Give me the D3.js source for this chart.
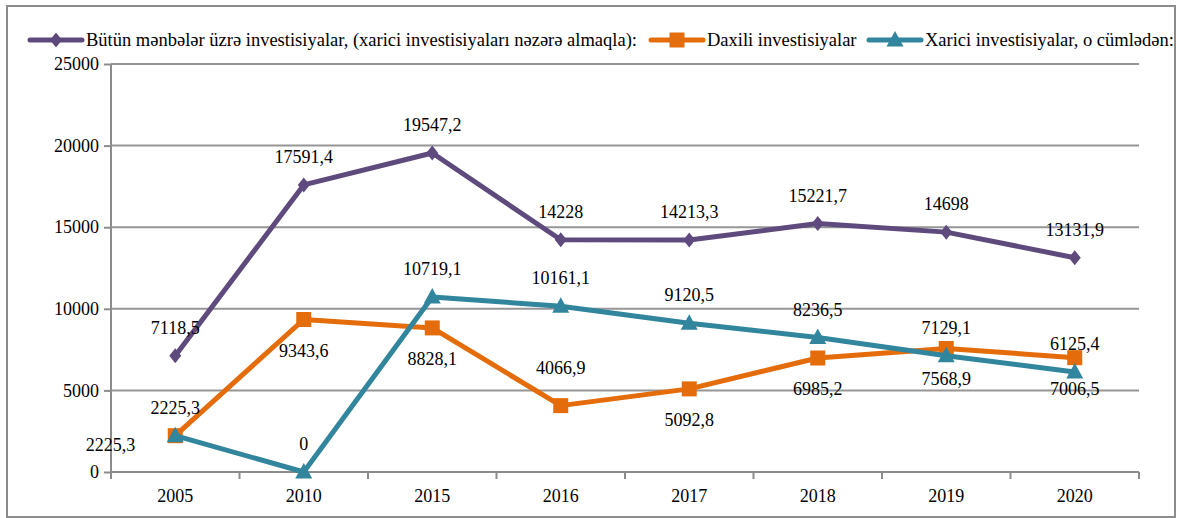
<!DOCTYPE html>
<html>
<head>
<meta charset="utf-8">
<script src="https://cdn.jsdelivr.net/npm/d3@7"></script>
<style>
  body { margin: 0; background: #fff; }
</style>
</head>
<body>
<div id="chart"></div>
<script>
// Data
const years = ['2005', '2010', '2015', '2016', '2017', '2018', '2019', '2020'];
const allValues = [7118.5, 17591.4, 19547.2, 14228, 14213.3, 15221.7, 14698, 13131.9];
const domesticValues = [2225.3, 9343.6, 8828.1, 4066.9, 5092.8, 6985.2, 7568.9, 7006.5];
const foreignValues = [2225.3, 0, 10719.1, 10161.1, 9120.5, 8236.5, 7129.1, 6125.4];
const yTicks = [0, 5000, 10000, 15000, 20000, 25000];

// where each data label sits relative to its point
const allPlace = ['above', 'above', 'above', 'above', 'above', 'above', 'above', 'above'];
const domesticPlace = ['above', 'below', 'below', 'above2', 'below', 'below', 'below', 'below'];
const foreignPlace = ['left', 'above', 'above', 'above', 'above', 'above', 'above', 'above'];

const FONT = '"Liberation Serif"';
const W = 1180, H = 518;
const margin = { top: 64, right: 41, bottom: 46, left: 111 };
const width = W - margin.left - margin.right;
const height = H - margin.top - margin.bottom;

const svg = d3.select('#chart')
    .append('svg')
    .attr('width', W)
    .attr('height', H);

// outer frame
svg.append('rect')
    .attr('x', 7).attr('y', 6)
    .attr('width', 1168).attr('height', 511)
    .attr('fill', 'none')
    .attr('stroke', '#8c8c8c')
    .attr('stroke-width', 2);

const g = svg.append('g')
    .attr('transform', `translate(${margin.left},${margin.top})`);

const x = d3.scaleBand()
    .domain(years)
    .range([0, width])
    .padding(0);

const y = d3.scaleLinear()
    .domain([0, 25000])
    .range([height, 0]);

// gridlines
g.append('g')
    .selectAll('line')
    .data(yTicks.filter(d => d > 0))
    .enter().append('line')
    .attr('x1', 0).attr('x2', width)
    .attr('y1', d => y(d)).attr('y2', d => y(d))
    .attr('stroke', '#969696')
    .attr('stroke-width', 2);

// y axis
const yAxis = g.append('g')
    .call(d3.axisLeft(y).tickValues(yTicks).tickSize(7).tickPadding(5).tickFormat(d => d));
yAxis.selectAll('path, line').attr('stroke', '#8c8c8c').attr('stroke-width', 2);
yAxis.select('.domain').attr('d', `M0,${height}V0`);
yAxis.selectAll('text')
    .style('font-family', FONT)
    .style('font-size', '18px')
    .attr('fill', '#000');

// x axis with ticks between categories
const xAxis = g.append('g')
    .attr('transform', `translate(0,${height})`);
xAxis.append('line')
    .attr('x1', 0).attr('x2', width)
    .attr('stroke', '#8c8c8c').attr('stroke-width', 2);
xAxis.selectAll('.tk')
    .data(years.concat(['end']))
    .enter().append('line')
    .attr('class', 'tk')
    .attr('x1', (d, i) => i * x.bandwidth())
    .attr('x2', (d, i) => i * x.bandwidth())
    .attr('y1', 0).attr('y2', 7)
    .attr('stroke', '#8c8c8c').attr('stroke-width', 2);
xAxis.selectAll('text')
    .data(years)
    .enter().append('text')
    .attr('x', d => x(d) + x.bandwidth() / 2)
    .attr('y', 30)
    .attr('text-anchor', 'middle')
    .style('font-family', FONT)
    .style('font-size', '18px')
    .text(d => d);

const series = [
    { name: 'Bütün mənbələr üzrə investisiyalar, (xarici investisiyaları nəzərə almaqla):', values: allValues, place: allPlace, color: '#5f4a7d', marker: 'diamond' },
    { name: 'Daxili investisiyalar', values: domesticValues, place: domesticPlace, color: '#e46c0a', marker: 'square' },
    { name: 'Xarici investisiyalar, o cümlədən:', values: foreignValues, place: foreignPlace, color: '#31859c', marker: 'triangle' }
];

const cx = i => x(years[i]) + x.bandwidth() / 2;

function markerPath(type) {
    if (type === 'diamond') return 'M0,-7.5L6,0L0,7.5L-6,0Z';
    if (type === 'square') return 'M-7.5,-7.5H7.5V7.5H-7.5Z';
    return 'M0,-9L8.5,6.5H-8.5Z';
}

const line = d3.line()
    .x((d, i) => cx(i))
    .y(d => y(d));

series.forEach(s => {
    g.append('path')
        .datum(s.values)
        .attr('d', line)
        .attr('fill', 'none')
        .attr('stroke', s.color)
        .attr('stroke-width', 5)
        .attr('stroke-linejoin', 'round');

    g.selectAll(null)
        .data(s.values)
        .enter().append('path')
        .attr('transform', (d, i) => `translate(${cx(i)},${y(d)})`)
        .attr('d', markerPath(s.marker))
        .attr('fill', s.color);
});

// data labels
series.forEach(s => {
    g.selectAll(null)
        .data(s.values)
        .enter().append('text')
        .attr('x', (d, i) => s.place[i] === 'left' ? cx(i) - 40 : cx(i))
        .attr('y', (d, i) => {
            const p = s.place[i];
            if (p === 'above') return y(d) - 22;
            if (p === 'above2') return y(d) - 32;
            if (p === 'below') return y(d) + 37;
            return y(d) + 15;
        })
        .attr('text-anchor', (d, i) => s.place[i] === 'left' ? 'end' : 'middle')
        .style('font-family', FONT)
        .style('font-size', '18px')
        .attr('fill', '#000')
        .text(d => String(d).replace('.', ','));
});

// legend
const legendX = [28, 649, 867];
const legend = svg.append('g').attr('transform', 'translate(0,40)');
series.forEach((s, i) => {
    const lg = legend.append('g').attr('transform', `translate(${legendX[i]},0)`);
    lg.append('line')
        .attr('x1', 2).attr('x2', 54)
        .attr('stroke', s.color)
        .attr('stroke-width', 5)
        .attr('stroke-linecap', 'round');
    lg.append('path')
        .attr('transform', 'translate(28,0)')
        .attr('d', markerPath(s.marker))
        .attr('fill', s.color);
    lg.append('text')
        .attr('x', 58)
        .attr('y', 6)
        .style('font-family', FONT)
        .style('font-size', '18.5px')
        .attr('fill', '#000')
        .text(s.name);
});
</script>
</body>
</html>
